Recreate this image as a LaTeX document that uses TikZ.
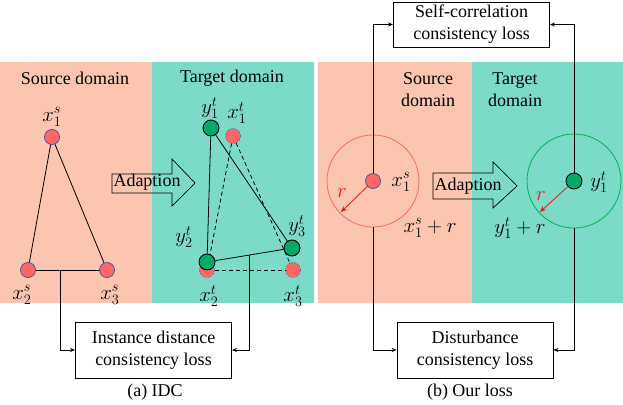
\documentclass[tikz,border=0pt]{standalone}
\usepackage{fontspec}
\setmainfont{Liberation Serif}
\usetikzlibrary{arrows.meta,calc}

\definecolor{srcbg}{RGB}{251,197,176}
\definecolor{tgtbg}{RGB}{123,219,200}
\definecolor{ptred}{RGB}{255,102,102}
\definecolor{ptblue}{RGB}{60,80,170}
\definecolor{ptgreen}{RGB}{0,170,105}
\definecolor{ballgreen}{RGB}{0,176,80}
\definecolor{rred}{RGB}{240,20,20}

\tikzset{
  txt/.style={font=\rmfamily\fontsize{18}{22}\selectfont, inner sep=0pt, align=center},
  mlbl/.style={font=\rmfamily\fontsize{20}{22}\selectfont, inner sep=0pt, align=center},
  srcpt/.style={circle, fill=ptred, draw=ptblue, line width=0.7pt, minimum size=15pt, inner sep=0pt},
  tgtxpt/.style={circle, fill=ptred, draw=ptblue, dashed, dash pattern=on 1.5pt off 1.5pt, line width=0.5pt, minimum size=15pt, inner sep=0pt},
  tgtypt/.style={circle, fill=ptgreen, draw=black, line width=0.9pt, minimum size=16pt, inner sep=0pt},
  lossbox/.style={draw, line width=0.8pt, font=\rmfamily\fontsize{18}{22}\selectfont, align=center, minimum width=156pt, inner sep=0pt},
  conn/.style={line width=0.8pt},
  feed/.style={line width=0.8pt, -{Stealth[length=5pt,width=4pt]}},
  adapt/.style={draw, line width=0.7pt},
  radius arrow/.style={rred, line width=0.8pt, -{Stealth[length=6pt,width=5pt]}},
  x=1pt, y=-1pt
}

\begin{document}
\begin{tikzpicture}
\useasboundingbox (0,0) rectangle (623,404);

% backgrounds
\fill[srcbg] (0,62) rectangle (152,303);
\fill[tgtbg] (152,62) rectangle (314,303);
\fill[srcbg] (318,62) rectangle (472,303);
\fill[tgtbg] (472,62) rectangle (623,303);

% ---------- (a) IDC ----------
\node[txt] (srcA) at (75,78) {Source domain};
\node[txt] (tgtA) at (232,78) {Target domain};

% source triangle
\node[srcpt] (xs1) at (52,137) {};
\node[srcpt] (xs2) at (28,270) {};
\node[srcpt] (xs3) at (107,270) {};
\draw[conn] (xs1) -- (xs2);
\draw[conn] (xs1) -- (xs3);
\draw[conn] (xs2) -- (xs3);
\node[mlbl] (lxs1) at (52,117) {$x_1^s$};
\node[mlbl] (lxs2) at (22,295) {$x_2^s$};
\node[mlbl] (lxs3) at (110,295) {$x_3^s$};

% adaption arrow (a)
\draw[adapt] (112,174) -- (172,174) -- (172,159) -- (195,183) -- (172,206) -- (172,193) -- (112,193) -- cycle;
\node[txt] (adA) at (147,182) {Adaption};

% target points
\node[tgtxpt] (xt1) at (233,136) {};
\node[tgtxpt] (xt2) at (207,270) {};
\node[tgtxpt] (xt3) at (293,270) {};
\draw[conn, dashed, dash pattern=on 4pt off 3pt] (xt1) -- (xt2);
\draw[conn, dashed, dash pattern=on 4pt off 3pt] (xt1) -- (xt3);
\draw[conn, dashed, dash pattern=on 4pt off 3pt] (xt2) -- (xt3);
\node[tgtypt] (yt1) at (211,128) {};
\node[tgtypt] (yt2) at (207,262) {};
\node[tgtypt] (yt3) at (292,248) {};
\draw[conn] (yt1) -- (yt2);
\draw[conn] (yt1) -- (yt3);
\draw[conn] (yt2) -- (yt3);
\node[mlbl] (lyt1) at (210,108) {$y_1^t$};
\node[mlbl] (lxt1) at (237,113) {$x_1^t$};
\node[mlbl] (lyt2) at (184,237) {$y_2^t$};
\node[mlbl] (lyt3) at (297,226) {$y_3^t$};
\node[mlbl] (lxt2) at (209,296) {$x_2^t$};
\node[mlbl] (lxt3) at (293,296) {$x_3^t$};

% instance distance loss
\node[lossbox, minimum height=56pt] (idc) at (153.5,350) {Instance distance\\consistency loss};
\coordinate (srcbar) at (60,270);
\coordinate (tgtbar) at ($(yt2)!0.5!(yt3)$);
\draw[feed] (srcbar) |- (idc.west);
\draw[feed] (tgtbar) |- (idc.east);
\node[txt] (capA) at (155,392) {(a) IDC};

% ---------- (b) Our loss ----------
\node[txt] (srcB) at (428,90) {Source\\domain};
\node[txt] (tgtB) at (515,90) {Target\\domain};

\node[circle, draw=ptred, line width=0.8pt, minimum size=92pt, inner sep=0pt] (ballS) at (373,181) {};
\node[circle, draw=ballgreen, line width=0.8pt, minimum size=94pt, inner sep=0pt] (ballT) at (574,181) {};
\node[srcpt] (xsb) at (373,181) {};
\node[tgtypt] (ytb) at (574,181) {};

\coordinate (rS) at (341,212);
\coordinate (rT) at (540,212);
\draw[radius arrow] (xsb) -- (rS);
\draw[radius arrow] (ytb) -- (rT);
\node[mlbl, text=rred] (lrS) at (342,193) {$r$};
\node[mlbl, text=rred] (lrT) at (541,196) {$r$};

\node[mlbl] (lxsb) at (401,182) {$x_1^s$};
\node[mlbl] (lytb) at (599,182) {$y_1^t$};
\node[mlbl] (lxsr) at (430,228) {$x_1^s+r$};
\node[mlbl] (lytr) at (520,228) {$y_1^t+r$};

% adaption arrow (b)
\draw[adapt] (433,173) -- (493,173) -- (493,162) -- (517,186) -- (493,208) -- (493,199) -- (433,199) -- cycle;
\node[txt] (adB) at (468,186) {Adaption};

% loss boxes
\node[lossbox, minimum height=45pt] (selfc) at (471.5,24.5) {Self-correlation\\consistency loss};
\node[lossbox, minimum height=56pt] (dist) at (475,350) {Disturbance\\consistency loss};
\draw[feed] (xsb.north) |- (selfc.west);
\draw[feed] (ytb.north) |- (selfc.east);
\draw[feed] (ballS.south) |- (dist.west);
\draw[feed] (ballT.south) |- (dist.east);
\node[txt] (capB) at (470,392) {(b) Our loss};
\end{tikzpicture}
\end{document}
